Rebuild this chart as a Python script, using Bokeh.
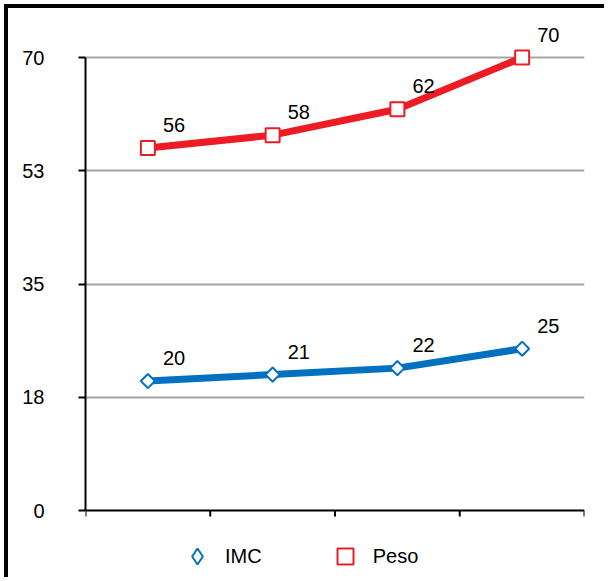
from bokeh.plotting import figure
from bokeh.models import (ColumnDataSource, LabelSet, FixedTicker, NumeralTickFormatter,
                          Legend, LegendItem, Range1d, Span)
from bokeh.core.properties import value
from bokeh.embed import file_html
from bokeh.resources import INLINE
import math

categories = ["1", "2", "3", "4"]
imc = [20, 21, 22, 25]
peso = [56, 58, 62, 70]
y_ticks = [0, 17.5, 35, 52.5, 70]
series_names = ["IMC", "Peso"]

xs = [i + 0.5 for i in range(len(categories))]
bounds = list(range(len(categories) + 1))
RED = "#ED1C24"
BLUE = "#0070C0"
FONT = "Liberation Sans"

# layout constants (pixels)
OFF = 8                       # outer border offset
FRAME_L, FRAME_R = 85, 584
Y0_PX, Y70_PX = 510, 57
FRAME_T, FRAME_B = 18, 581
ppu = (Y0_PX - Y70_PX) / 70.0
y_top = (Y0_PX - FRAME_T) / ppu
y_bot = -(FRAME_B - Y0_PX) / ppu

W, H = 608 - OFF, 581 - OFF
p = figure(width=W, height=H, output_backend="svg", toolbar_location=None,
           x_range=Range1d(0, len(categories)), y_range=Range1d(y_bot, y_top),
           x_axis_location=None,
           min_border_left=FRAME_L - OFF, min_border_right=W - (FRAME_R - OFF),
           min_border_top=FRAME_T - OFF, min_border_bottom=0)
p.margin = (4, 0, 0, 4)
p.styles = {"border-left": "4px solid black", "border-top": "4px solid black"}
p.outline_line_color = None
p.background_fill_color = "white"
p.border_fill_color = "white"

# y axis
p.yaxis.ticker = FixedTicker(ticks=y_ticks)
p.yaxis.bounds = (0, 70)
p.yaxis.formatter = NumeralTickFormatter(format="0")
p.yaxis.axis_line_color = "black"
p.yaxis.axis_line_width = 2
p.yaxis.major_tick_line_width = 2
p.yaxis.major_tick_out = 7
p.yaxis.major_tick_in = 0
p.yaxis.minor_tick_line_color = None
p.yaxis.major_label_standoff = 34
p.yaxis.major_label_text_font = FONT
p.yaxis.major_label_text_font_size = "20px"
p.yaxis.major_label_text_color = "black"

p.xgrid.grid_line_color = None
p.ygrid.ticker = FixedTicker(ticks=y_ticks[1:])
p.ygrid.grid_line_color = "#A6A6A6"
p.ygrid.grid_line_width = 2

# x axis line and ticks at category boundaries
p.add_layout(Span(location=0, dimension="width", line_color="black", line_width=2))
tick_len = 6 / ppu
p.segment(x0=bounds, y0=[0] * len(bounds), x1=bounds, y1=[-tick_len] * len(bounds),
          line_color="black", line_width=2)

src_i = ColumnDataSource(dict(x=xs, y=imc, t=[str(v) for v in imc]))
src_p = ColumnDataSource(dict(x=xs, y=peso, t=[str(v) for v in peso]))

p.line("x", "y", source=src_i, line_color=BLUE, line_width=7)
p.line("x", "y", source=src_p, line_color=RED, line_width=7)
p.scatter("x", "y", source=src_i, marker="square", angle=math.pi / 4, size=10,
          fill_color="white", line_color=BLUE, line_width=2)
r_p = p.scatter("x", "y", source=src_p, marker="square", size=14, fill_color="white",
                line_color=RED, line_width=2)

# legend-only marker for the IMC series (legend glyphs are drawn unrotated)
leg_i = p.scatter(x=[float("nan")], y=[float("nan")], marker="diamond", size=10,
                  fill_color="white", line_color=BLUE, line_width=2)

for src in (src_i, src_p):
    p.add_layout(LabelSet(x="x", y="y", text="t", source=src, x_offset=15, y_offset=16,
                          text_font=value(FONT), text_font_size="20px", text_color="black",
                          text_align="left", text_baseline="alphabetic"))

legend = Legend(items=[LegendItem(label=series_names[0], renderers=[leg_i]),
                       LegendItem(label=series_names[1], renderers=[r_p])],
                orientation="horizontal", location=(92, 5),
                glyph_width=40, glyph_height=40, label_standoff=8, spacing=63,
                padding=0, margin=0, border_line_color=None, background_fill_alpha=0,
                label_text_font=FONT, label_text_font_size="20px", label_text_color="black")
p.add_layout(legend, "center")

open("out.html", "w").write(file_html(p, INLINE))
